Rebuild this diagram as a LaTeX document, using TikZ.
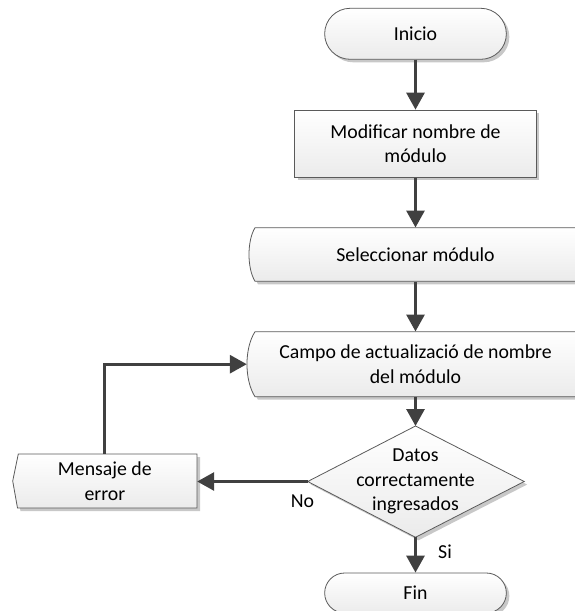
\documentclass[tikz,border=0pt]{standalone}
\usepackage{fontspec}
\setmainfont{Carlito}
\usetikzlibrary{arrows.meta,shadows,calc}
\definecolor{linegray}{HTML}{5A5A5A}
\definecolor{arrowgray}{HTML}{404040}
\definecolor{fillbot}{HTML}{EBEBEB}
\definecolor{shadowgray}{HTML}{C8C8C8}
\begin{document}
\begin{tikzpicture}[x=1pt,y=-1pt,
  every node/.style={font=\fontsize{19.8pt}{24.5pt}\selectfont, text=black, align=center, inner sep=0pt},
  shp/.style={draw=linegray, line width=0.8pt, top color=white, bottom color=fillbot,
    drop shadow={shadow xshift=3pt, shadow yshift=-3pt, fill=shadowgray, opacity=1}},
  arr/.style={draw=arrowgray, line width=3pt, -{Triangle[length=17pt,width=18pt]}}
]
\useasboundingbox (0,0) rectangle (575,611);
\clip (0,0) rectangle (575,611);

% terminals and process box
\node[shp, rectangle, rounded corners=25.5pt, minimum width=181.7pt, minimum height=51pt] (inicio) at (415.5,33.8) {Inicio};
\node[shp, rectangle, minimum width=241.7pt, minimum height=67.3pt] (modif) at (415.5,143.7) {Modificar nombre de\\módulo};

% Seleccionar outline
\path[shp] (255,227.7) -- (600,227.7) -- (600,281.3) -- (255,281.3)
  .. controls (247,268) and (247,241) .. (255,227.7) -- cycle;
\node[minimum width=333pt, minimum height=53.6pt] (sel) at (415.5,254.5) {Seleccionar módulo};

% Campo outline
\path[shp] (255,331.7) -- (600,331.7) -- (600,396.7) -- (255,396.7)
  .. controls (244.3,380) and (244.3,348.3) .. (255,331.7) -- cycle;
\node[minimum width=337pt, minimum height=65pt] (campo) at (415.5,364.2) {Campo de actualizació de nombre\\del módulo};

% Decision
\path[shp] (415.5,426) coordinate (dtop) -- (524.2,481.5) coordinate (dright)
  -- (415.5,537.3) coordinate (dbot) -- (307.7,481.5) coordinate (dleft) -- cycle;
\node (dec) at (415.5,481.5) {Datos\\correctamente\\ingresados};

% Mensaje de error
\path[shp] (18.3,454) -- (197,454) -- (197,508) -- (17.5,508) -- (12.7,481) -- cycle;
\node[minimum width=184.3pt, minimum height=54pt] (msg) at (104.85,481) {Mensaje de\\error};

% Fin
\node[shp, rectangle, rounded corners=20pt, minimum width=181.7pt, minimum height=40pt] (fin) at (415.5,593) {Fin};

% labels
\node (no) at (302.5,501.7) {No};
\node (si) at (445,551.7) {Si};

% connectors
\draw[arr] (inicio.south) -- (modif.north);
\draw[arr] (modif.south) -- (sel.north);
\draw[arr] (sel.south) -- (campo.north);
\draw[arr] (campo.south) -- (dtop);
\draw[arr] (dleft) -- (dleft -| msg.east);
\draw[arr] (msg.north) |- (campo.west);
\draw[arr] (dbot) -- (fin.north);
\end{tikzpicture}
\end{document}
